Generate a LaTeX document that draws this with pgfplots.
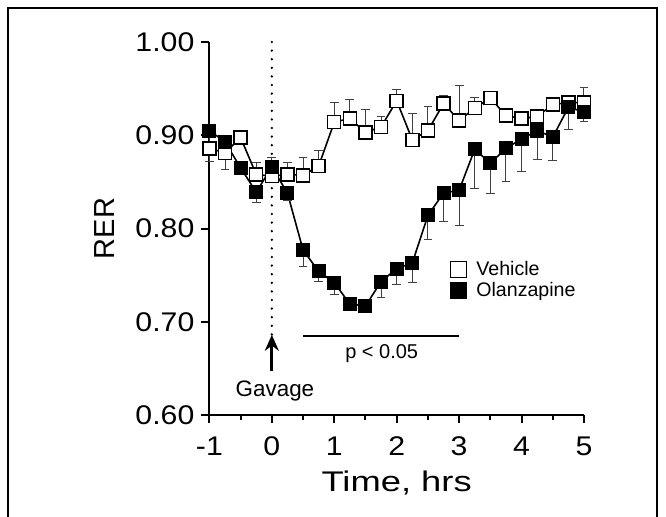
\documentclass[border=0pt]{standalone}
\usepackage{pgfplots}
\pgfplotsset{compat=1.18}
\usepackage{fontspec}
\setmainfont{Liberation Sans}
\newfontfamily\widefont{Liberation Sans}[FakeStretch=1.12]
\newfontfamily\widerfont{Liberation Sans}[FakeStretch=1.28]
\usetikzlibrary{arrows.meta}
\begin{document}
\begin{tikzpicture}[x=1pt,y=1pt]
\useasboundingbox (0,0) rectangle (333,258);
\draw[line width=1pt] (4,-5) -- (4,254) -- (328.5,254) -- (328.5,-5);
\begin{axis}[
  at={(104.7pt,50.5pt)}, anchor=south west,
  scale only axis, width=187.3pt, height=186.5pt,
  xmin=-1, xmax=5, ymin=0.6, ymax=1.0,
  clip=false,
  axis x line*=bottom, axis y line*=left,
  axis line style={line width=1pt},
  xtick={-1,0,1,2,3,4,5},
  minor xtick={-0.5,0.5,1.5,2.5,3.5,4.5},
  ytick={0.6,0.7,0.8,0.9,1.0},
  tick align=outside,
  major tick length=4pt, minor tick length=2.5pt,
  tick style={line width=1pt, black},
  /pgf/number format/assume math mode=true,
  ticklabel style={font=\widefont\fontsize{13.5}{15}\selectfont},
  xticklabel style={yshift=-3.5pt},
  yticklabel style={/pgf/number format/.cd, fixed, fixed zerofill, precision=2},
  xlabel={Time, hrs}, ylabel={RER},
  every axis x label/.style={at={(axis description cs:0.5,0)}, yshift=-34pt, anchor=center, font=\widerfont\fontsize{14.2}{17}\selectfont},
  every axis y label/.style={at={(axis description cs:0,0.5)}, xshift=-52.5pt, rotate=90, anchor=center, font=\fontsize{14.5}{17}\selectfont},
  legend style={at={(axis cs:2.86,0.769)}, anchor=north west, draw=none, fill=none,
    font=\fontsize{9.8}{11}\selectfont, row sep=-1pt, inner sep=0pt,
    nodes={inner sep=1.5pt},
    /tikz/every odd column/.append style={column sep=3.5pt}},
  legend cell align=left,
  legend image code/.code={\draw[#1, only marks, mark size=3.9pt] plot coordinates {(4.5pt,0pt)};},
]
\addplot[black, line width=0.8pt, mark=square*, mark size=3.25pt,
  mark options={fill=white, draw=black, line width=0.7pt},
  error bars/.cd, y dir=plus, y explicit,
  error bar style={line width=0.5pt, black!75},
  error mark options={rotate=90, mark size=2.2pt, line width=0.5pt, black!75}]
coordinates {
(-1,0.886) +- (0,0.005)
(-0.75,0.881) +- (0,0.005)
(-0.5,0.8975) +- (0,0.005)
(-0.25,0.858) +- (0,0.013)
(0,0.856) +- (0,0.020)
(0.25,0.858) +- (0,0.013)
(0.5,0.857) +- (0,0.019)
(0.75,0.867) +- (0,0.017)
(1.0,0.914) +- (0,0.021)
(1.25,0.918) +- (0,0.020)
(1.5,0.903) +- (0,0.025)
(1.75,0.909) +- (0,0.011)
(2.0,0.937) +- (0,0.012)
(2.25,0.895) +- (0,0.028)
(2.5,0.905) +- (0,0.026)
(2.75,0.934) +- (0,0.009)
(3.0,0.916) +- (0,0.037)
(3.25,0.929) +- (0,0.011)
(3.5,0.940) +- (0,0.006)
(3.75,0.921) +- (0,0.003)
(4.0,0.918) +- (0,0.007)
(4.25,0.920) +- (0,0.007)
(4.5,0.933) +- (0,0.008)
(4.75,0.935) +- (0,0.006)
(5.0,0.935) +- (0,0.016)
};
\addlegendentry{Vehicle}
\addplot[black, line width=0.8pt, mark=square*, mark size=3.25pt,
  mark options={fill=black, draw=black, line width=0.5pt},
  error bars/.cd, y dir=minus, y explicit,
  error bar style={line width=0.5pt, black!75},
  error mark options={rotate=90, mark size=2.2pt, line width=0.5pt, black!75}]
coordinates {
(-1,0.905) +- (0,0.033)
(-0.75,0.893) +- (0,0.030)
(-0.5,0.865) +- (0,0.006)
(-0.25,0.839) +- (0,0.011)
(0,0.866) +- (0,0.008)
(0.25,0.838) +- (0,0.008)
(0.5,0.777) +- (0,0.018)
(0.75,0.754) +- (0,0.011)
(1.0,0.742) +- (0,0.013)
(1.25,0.719) +- (0,0)
(1.5,0.717) +- (0,0)
(1.75,0.743) +- (0,0.017)
(2.0,0.757) +- (0,0.017)
(2.25,0.763) +- (0,0.021)
(2.5,0.814) +- (0,0.026)
(2.75,0.838) +- (0,0.030)
(3.0,0.841) +- (0,0.038)
(3.25,0.885) +- (0,0.042)
(3.5,0.870) +- (0,0.032)
(3.75,0.886) +- (0,0.036)
(4.0,0.896) +- (0,0.035)
(4.25,0.905) +- (0,0.031)
(4.5,0.898) +- (0,0.025)
(4.75,0.930) +- (0,0.024)
(5.0,0.925) +- (0,0.010)
};
\addlegendentry{Olanzapine}
\draw[line width=1.3pt, line cap=round, dash pattern=on 0pt off 4.3pt] (axis cs:0,1.0) -- (axis cs:0,0.686);
\draw[line width=1.3pt, line cap=round, dash pattern=on 0pt off 4.3pt] (axis cs:0,0.6) -- (axis cs:0,0.607);
\draw[line width=1.5pt, -{Stealth[length=8pt, width=7pt]}] (axis cs:0,0.647) -- (axis cs:0,0.686);
\node[font=\fontsize{11.2}{13}\selectfont] at (axis cs:0.05,0.626) {Gavage};
\draw[line width=0.9pt] (axis cs:0.5,0.685) -- (axis cs:3,0.685);
\node[font=\fontsize{10}{12}\selectfont] at (axis cs:1.76,0.666) {p < 0.05};
\end{axis}
\end{tikzpicture}
\end{document}
